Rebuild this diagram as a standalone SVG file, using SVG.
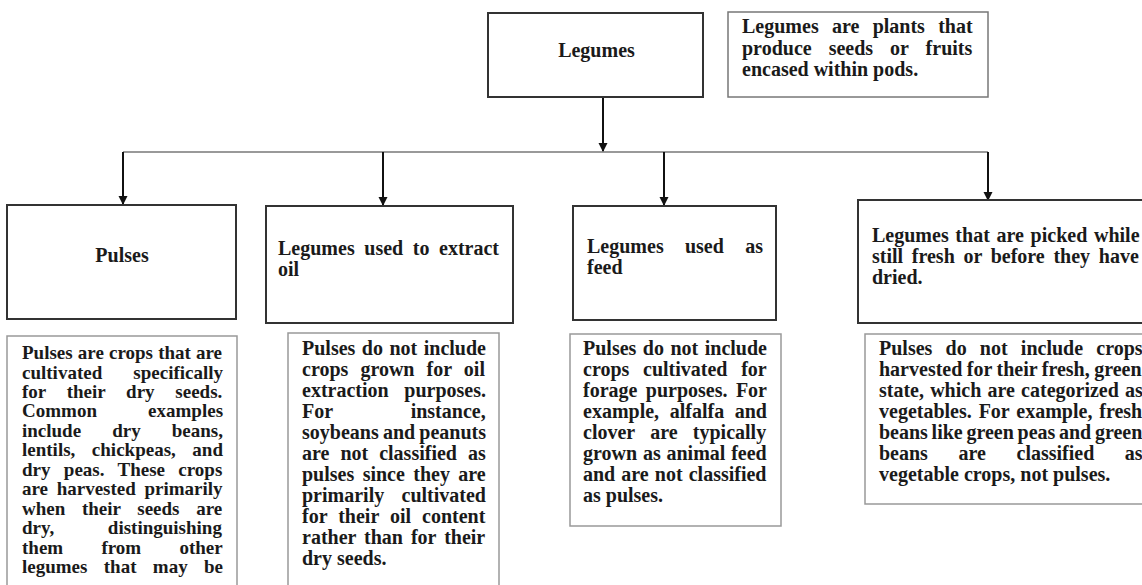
<svg xmlns="http://www.w3.org/2000/svg" width="1142" height="585" viewBox="0 0 1142 585">
<defs>
<marker id="ah" markerUnits="userSpaceOnUse" markerWidth="10" markerHeight="10" refX="8" refY="4.5" orient="auto">
<path d="M0,0 L9,4.5 L0,9 z" fill="#111"/>
</marker>
<style>
.t{font-family:"Liberation Serif","Times New Roman",serif;font-size:20px;font-weight:bold;fill:#1a1a1a}
.s{font-size:19px}
.m{text-anchor:middle}
.hb{fill:#fff;stroke:#333;stroke-width:2}
.lb{fill:#fff;stroke:#999;stroke-width:1.5}
.db{fill:#fff;stroke:#777;stroke-width:1.5}
.ar{fill:none;stroke:#111;stroke-width:2}
.hl{fill:none;stroke:#777;stroke-width:1.5}
</style>
</defs>
<rect width="1142" height="585" fill="#fff"/>

<g id="connectors">
<line class="hl" x1="123" y1="152" x2="988" y2="152"/>
<line class="ar" x1="603" y1="97" x2="603" y2="151" marker-end="url(#ah)"/>
<line class="ar" x1="123" y1="152" x2="123" y2="204" marker-end="url(#ah)"/>
<line class="ar" x1="383" y1="152" x2="383" y2="205" marker-end="url(#ah)"/>
<line class="ar" x1="664" y1="152" x2="664" y2="205" marker-end="url(#ah)"/>
<line class="ar" x1="988" y1="152" x2="988" y2="200" marker-end="url(#ah)"/>
</g>

<g id="legumes">
<rect class="hb" x="488" y="13" width="215" height="84"/>
<text class="t m" x="596.5" y="57">Legumes</text>
</g>

<g id="definition">
<rect class="db" x="728" y="12" width="260" height="85"/>
<text class="t" x="742" y="33" word-spacing="8.3">Legumes are plants that</text>
<text class="t" x="742" y="55" word-spacing="12">produce seeds or fruits</text>
<text class="t" x="742" y="76">encased within pods.</text>
</g>

<g id="pulses">
<rect class="hb" x="7" y="205" width="229" height="114"/>
<text class="t m" x="122" y="262">Pulses</text>
</g>

<g id="oil">
<rect class="hb" x="266" y="206" width="247" height="117"/>
<text class="t" x="278" y="255" word-spacing="4.6">Legumes used to extract</text>
<text class="t" x="278" y="276">oil</text>
</g>

<g id="feed">
<rect class="hb" x="573" y="206" width="203" height="114"/>
<text class="t" x="587" y="253" word-spacing="16.3">Legumes used as</text>
<text class="t" x="587" y="274">feed</text>
</g>

<g id="fresh">
<rect class="hb" x="858" y="200" width="300" height="123"/>
<text class="t" x="872" y="242" word-spacing="1.7">Legumes that are picked while</text>
<text class="t" x="872" y="263" word-spacing="3.7">still fresh or before they have</text>
<text class="t" x="872" y="284">dried.</text>
</g>

<g id="pulses-note">
<rect class="lb" x="7" y="336" width="230" height="270"/>
<text class="t s" x="22" y="359" word-spacing="0.4">Pulses are crops that are</text>
<text class="t s" x="22" y="378.5" word-spacing="26.4">cultivated specifically</text>
<text class="t s" x="22" y="398" word-spacing="16">for their dry seeds.</text>
<text class="t s" x="22" y="417.4" word-spacing="46.4">Common examples</text>
<text class="t s" x="22" y="436.8" word-spacing="26.3">include dry beans,</text>
<text class="t s" x="22" y="456.3" word-spacing="11.8">lentils, chickpeas, and</text>
<text class="t s" x="22" y="475.7" word-spacing="8.6">dry peas. These crops</text>
<text class="t s" x="22" y="495.2" word-spacing="3.9">are harvested primarily</text>
<text class="t s" x="22" y="514.6" word-spacing="11.9">when their seeds are</text>
<text class="t s" x="22" y="534" word-spacing="48.9">dry, distinguishing</text>
<text class="t s" x="22" y="553.5" word-spacing="33.5">them from other</text>
<text class="t s" x="22" y="573" word-spacing="11.6">legumes that may be</text>
</g>

<g id="oil-note">
<rect class="lb" x="288" y="333" width="211" height="270"/>
<text class="t" x="302" y="355" word-spacing="1.5">Pulses do not include</text>
<text class="t" x="302" y="376" word-spacing="7.1">crops grown for oil</text>
<text class="t" x="302" y="397" word-spacing="10.7">extraction purposes.</text>
<text class="t" x="302" y="418" word-spacing="72.9">For instance,</text>
<text class="t" x="302" y="439" word-spacing="-0.8">soybeans and peanuts</text>
<text class="t" x="302" y="460" word-spacing="6">are not classified as</text>
<text class="t" x="302" y="481" word-spacing="3.4">pulses since they are</text>
<text class="t" x="302" y="502" word-spacing="12.3">primarily cultivated</text>
<text class="t" x="302" y="523" word-spacing="6">for their oil content</text>
<text class="t" x="302" y="544" word-spacing="3">rather than for their</text>
<text class="t" x="302" y="565">dry seeds.</text>
</g>

<g id="feed-note">
<rect class="lb" x="570" y="334" width="211" height="192"/>
<text class="t" x="583" y="355" word-spacing="1.5">Pulses do not include</text>
<text class="t" x="583" y="376" word-spacing="8.7">crops cultivated for</text>
<text class="t" x="583" y="397" word-spacing="3.4">forage purposes. For</text>
<text class="t" x="583" y="418" word-spacing="5.6">example, alfalfa and</text>
<text class="t" x="583" y="439" word-spacing="10.3">clover are typically</text>
<text class="t" x="583" y="460" word-spacing="0.8">grown as animal feed</text>
<text class="t" x="583" y="481" word-spacing="1.1">and are not classified</text>
<text class="t" x="583" y="502">as pulses.</text>
</g>

<g id="fresh-note">
<rect class="lb" x="865" y="334" width="300" height="170"/>
<text class="t" x="879" y="355" word-spacing="8.2">Pulses do not include crops</text>
<text class="t" x="879" y="376" word-spacing="-0.5">harvested for their fresh, green</text>
<text class="t" x="879" y="397" word-spacing="1.2">state, which are categorized as</text>
<text class="t" x="879" y="418" word-spacing="1.9">vegetables. For example, fresh</text>
<text class="t" x="879" y="439" word-spacing="-1.3">beans like green peas and green</text>
<text class="t" x="879" y="460" word-spacing="25.6">beans are classified as</text>
<text class="t" x="879" y="481">vegetable crops, not pulses.</text>
</g>
</svg>
